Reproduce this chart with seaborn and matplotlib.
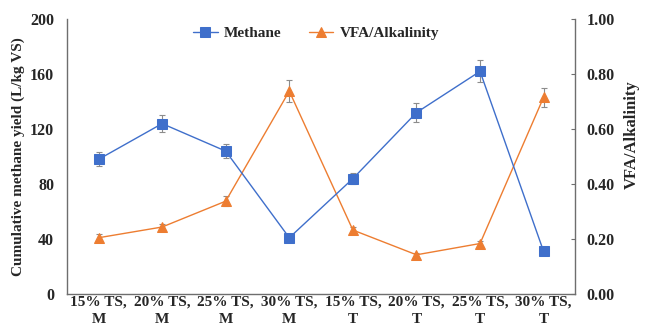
import numpy as np
import pandas as pd
import matplotlib
matplotlib.use("Agg")
import matplotlib.pyplot as plt
import seaborn as sns

categories = ["15% TS,\nM", "20% TS,\nM", "25% TS,\nM", "30% TS,\nM",
              "15% TS,\nT", "20% TS,\nT", "25% TS,\nT", "30% TS,\nT"]
methane = [98, 124, 104, 41, 84, 132, 162, 31]
methane_err = [5, 6, 5, 0, 4, 7, 8, 0]
vfa_alk = [0.205, 0.244, 0.338, 0.738, 0.233, 0.143, 0.184, 0.716]
vfa_err = [0.012, 0.012, 0.018, 0.040, 0.010, 0.008, 0.010, 0.035]

sns.set_style("white")
plt.rcParams["font.family"] = ["Liberation Serif", "DejaVu Serif"]
plt.rcParams["font.weight"] = "bold"

blue = "#3F6FCB"
orange = "#ED7D31"

df = pd.DataFrame({"cat": categories, "pos": np.arange(len(categories)),
                   "methane": methane, "vfa": vfa_alk})

fig, ax = plt.subplots(figsize=(6.48, 3.35), dpi=100)
fig.subplots_adjust(left=0.103, right=0.888, bottom=0.122, top=0.943)
ax2 = ax.twinx()

ax.errorbar(df["pos"], df["methane"], yerr=methane_err, fmt="none",
            ecolor="#8c8c8c", elinewidth=0.8, capsize=2.5, capthick=0.8, zorder=2)
sns.lineplot(data=df, x="pos", y="methane", ax=ax, color=blue, marker="s",
             markersize=7, markeredgecolor=blue, linewidth=1.0, label="Methane",
             legend=False, zorder=3)

ax2.errorbar(df["pos"], df["vfa"], yerr=vfa_err, fmt="none",
             ecolor="#8c8c8c", elinewidth=0.8, capsize=2.5, capthick=0.8, zorder=2)
sns.lineplot(data=df, x="pos", y="vfa", ax=ax2, color=orange, marker="^",
             markersize=7, markeredgecolor=orange, linewidth=1.0,
             label="VFA/Alkalinity", legend=False, zorder=3)

ax.set_xlim(-0.5, len(categories) - 0.5)
ax.set_ylim(0, 200)
ax.set_yticks(np.arange(0, 201, 40))
ax2.set_ylim(0, 1.0)
ax2.set_yticks(np.arange(0, 1.01, 0.2))
ax2.set_yticklabels([f"{v:.2f}" for v in np.arange(0, 1.01, 0.2)])
ax.set_xticks(df["pos"])
ax.set_xticklabels(categories, fontsize=11, fontweight="bold", linespacing=1.4)

ax.set_xlabel("")
ax.set_ylabel("Cumulative methane yield (L/kg VS)", fontsize=11, fontweight="bold")
ax2.set_ylabel("VFA/Alkalinity", fontsize=12, fontweight="bold")
ax2.yaxis.set_label_coords(1.095, 0.58)

for a in (ax, ax2):
    for s in a.spines.values():
        s.set_color("#6e6e6e")
        s.set_linewidth(1.0)
    a.spines["top"].set_visible(False)
ax.spines["right"].set_visible(False)
ax2.spines["left"].set_visible(False)
ax2.spines["bottom"].set_visible(False)

ax.tick_params(axis="y", length=0, labelsize=11.5, pad=9)
ax.tick_params(axis="x", length=0, labelsize=11, pad=1)
ax2.tick_params(axis="y", direction="in", length=3, color="#6e6e6e",
                labelsize=11.5, pad=8)
for lab in ax.get_yticklabels() + ax2.get_yticklabels():
    lab.set_fontweight("bold")

h1, l1 = ax.get_legend_handles_labels()
h2, l2 = ax2.get_legend_handles_labels()
leg = ax.legend(h1 + h2, l1 + l2, loc="upper center", bbox_to_anchor=(0.49, 1.0),
                ncol=2, frameon=False, fontsize=11, handlelength=1.6,
                handletextpad=0.4, columnspacing=1.8, borderaxespad=0.1)
for t in leg.get_texts():
    t.set_fontweight("bold")
ax.set_zorder(ax2.get_zorder() + 1)
ax.patch.set_visible(False)

fig.savefig("out.png", dpi=100)
